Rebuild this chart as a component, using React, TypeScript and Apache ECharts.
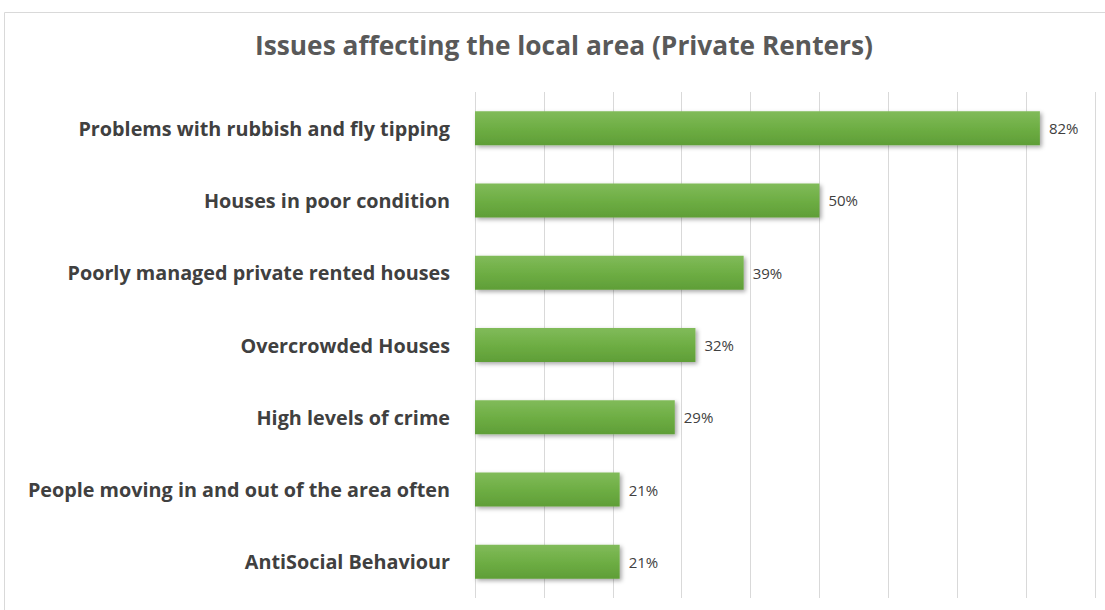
import React, { useEffect, useRef } from "react";
import * as echarts from "echarts";

const categories = [
  "Problems with rubbish and fly tipping",
  "Houses in poor condition",
  "Poorly managed private rented houses",
  "Overcrowded Houses",
  "High levels of crime",
  "People moving in and out of the area often",
  "AntiSocial Behaviour",
];
const values = [82, 50, 39, 32, 29, 21, 21];
const title = "Issues affecting the local area (Private Renters)";

export default function App() {
  const ref = useRef<HTMLDivElement>(null);
  useEffect(() => {
    const chart = echarts.init(ref.current!, undefined, { renderer: "svg" });
    chart.setOption({
      animation: false,
      backgroundColor: "#ffffff",
      title: {
        text: title,
        left: 559,
        textAlign: "center",
        top: 27,
        textStyle: {
          fontFamily: "Open Sans",
          fontWeight: "bold",
          fontSize: 26.3,
          color: "#595959",
        },
      },
      graphic: [
        {
          type: "rect",
          shape: { x: 4.5, y: 12.5, width: 1110, height: 610 },
          style: { fill: "none", stroke: "#d9d9d9", lineWidth: 1 },
          silent: true,
        },
      ],
      grid: { left: 475, right: 10, top: 92, bottom: 12 },
      xAxis: {
        type: "value",
        min: 0,
        max: 90,
        interval: 10,
        axisLabel: { show: false },
        axisLine: { show: false },
        axisTick: { show: false },
        splitLine: { lineStyle: { color: "#d9d9d9", width: 1 } },
      },
      yAxis: {
        type: "category",
        data: categories,
        inverse: true,
        axisLine: { show: false },
        axisTick: { show: false },
        axisLabel: {
          margin: 25,
          fontFamily: "Open Sans",
          fontWeight: "bold",
          fontSize: 19.8,
          color: "#404040",
        },
      },
      series: [
        {
          type: "bar",
          data: values,
          barWidth: 34,
          itemStyle: {
            color: new echarts.graphic.LinearGradient(0, 0, 0, 1, [
              { offset: 0, color: "#81bb5a" },
              { offset: 0.5, color: "#6eae44" },
              { offset: 1, color: "#5f9e37" },
            ]),
            shadowColor: "rgba(0,0,0,0.35)",
            shadowBlur: 4,
            shadowOffsetX: 2,
            shadowOffsetY: 2,
          },
          label: {
            show: true,
            position: "right",
            distance: 9,
            formatter: "{c}%",
            fontFamily: "Open Sans",
            fontSize: 15,
            color: "#404040",
          },
        },
      ],
    });
    return () => chart.dispose();
  }, []);
  return (
    <div
      ref={ref}
      style={{ position: "fixed", left: 0, top: 0, width: 1105, height: 610 }}
    />
  );
}
